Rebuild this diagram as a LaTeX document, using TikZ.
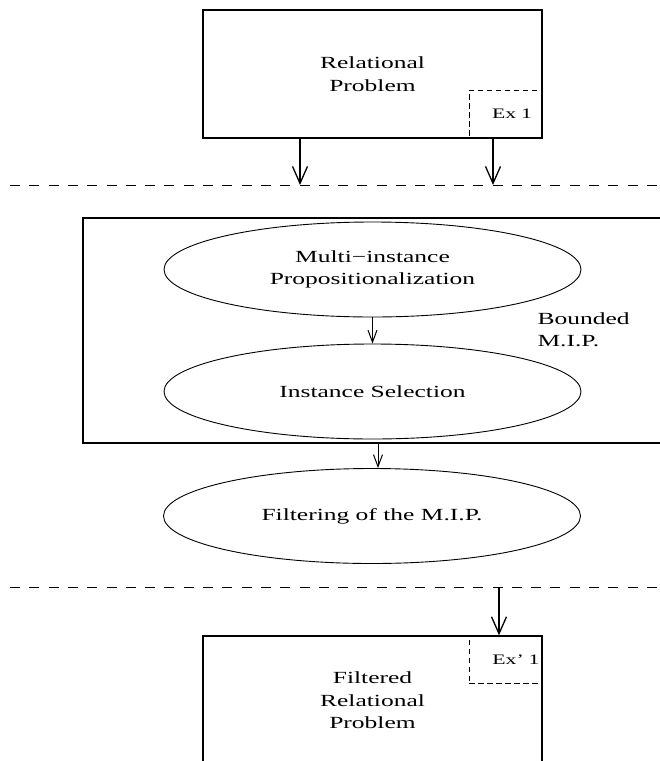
\documentclass[tikz,border=0pt]{standalone}
\usepackage{fontspec}
\setmainfont[FakeStretch=1.5]{Liberation Serif}
\usetikzlibrary{arrows.meta,shapes.geometric}

\begin{document}
\begin{tikzpicture}[
  x=1pt,y=-1pt,
  font=\fontsize{17}{22.5}\selectfont,
  box/.style={draw,line width=1.3pt,inner sep=0pt,align=center},
  exbox/.style={draw,dash pattern=on 5.5pt off 3.5pt,line width=0.9pt,minimum width=73pt,minimum height=48pt,
    align=right,font=\fontsize{14.5}{17}\selectfont},
  stage/.style={draw,ellipse,line width=0.9pt,minimum width=417pt,minimum height=95pt,align=center,inner sep=0pt},
  arr/.style={-{Straight Barb[length=17pt,width=15pt]},line width=1.3pt},
  small/.style={-{Straight Barb[length=12pt,width=9pt]},line width=1pt},
  cut/.style={dash pattern=on 10pt off 9.3pt,line width=1pt}
]
  \useasboundingbox (0,0) rectangle (660,761);
  \clip (0,0) rectangle (660,761);

  % input problem
  \node[box,minimum width=339pt,minimum height=128pt] (rel) at (372.5,74) {Relational\\Problem};
  \node[exbox,text width=53pt,inner xsep=10pt] (ex1) at (505.5,114) {Ex 1};

  \coordinate (cutA) at (10,185);
  \coordinate (cutB) at (660,185);
  \draw[cut] (cutA) -- (cutB);
  \coordinate (in1) at (300,185);
  \coordinate (in2) at (493,185);
  \draw[arr] (rel.south -| in1) -- (in1);
  \draw[arr] (rel.south -| in2) -- (in2);

  % bounded multi-instance propositionalization
  \node[box,minimum width=617pt,minimum height=225pt] (mip) at (391.5,330.5) {};
  \node[stage] (prop) at (372.5,269.5) {Multi−instance\\Propositionalization};
  \node[stage] (sel)  at (372.5,391.5) {Instance Selection};
  \node[anchor=west,align=left] (bmip) at (534,329.5) {Bounded\\M.I.P.};
  \draw[small] (prop) -- (sel);

  \node[stage] (filt) at (372,516) {Filtering of the M.I.P.};
  \coordinate (f1) at (378,0);
  \draw[small] (mip.south -| f1) -- (filt.north -| f1);

  \coordinate (cutC) at (10,587);
  \coordinate (cutD) at (660,587);
  \draw[cut] (cutC) -- (cutD);

  % output problem
  \node[box,minimum width=339pt,minimum height=129pt] (res) at (372.5,700.5) {Filtered\\Relational\\Problem};
  \node[exbox,text width=68pt,inner xsep=2.5pt] (ex2) at (505.5,659.5) {Ex' 1};
  \coordinate (out1) at (499,587);
  \draw[arr] (out1) -- (res.north -| out1);
\end{tikzpicture}
\end{document}
